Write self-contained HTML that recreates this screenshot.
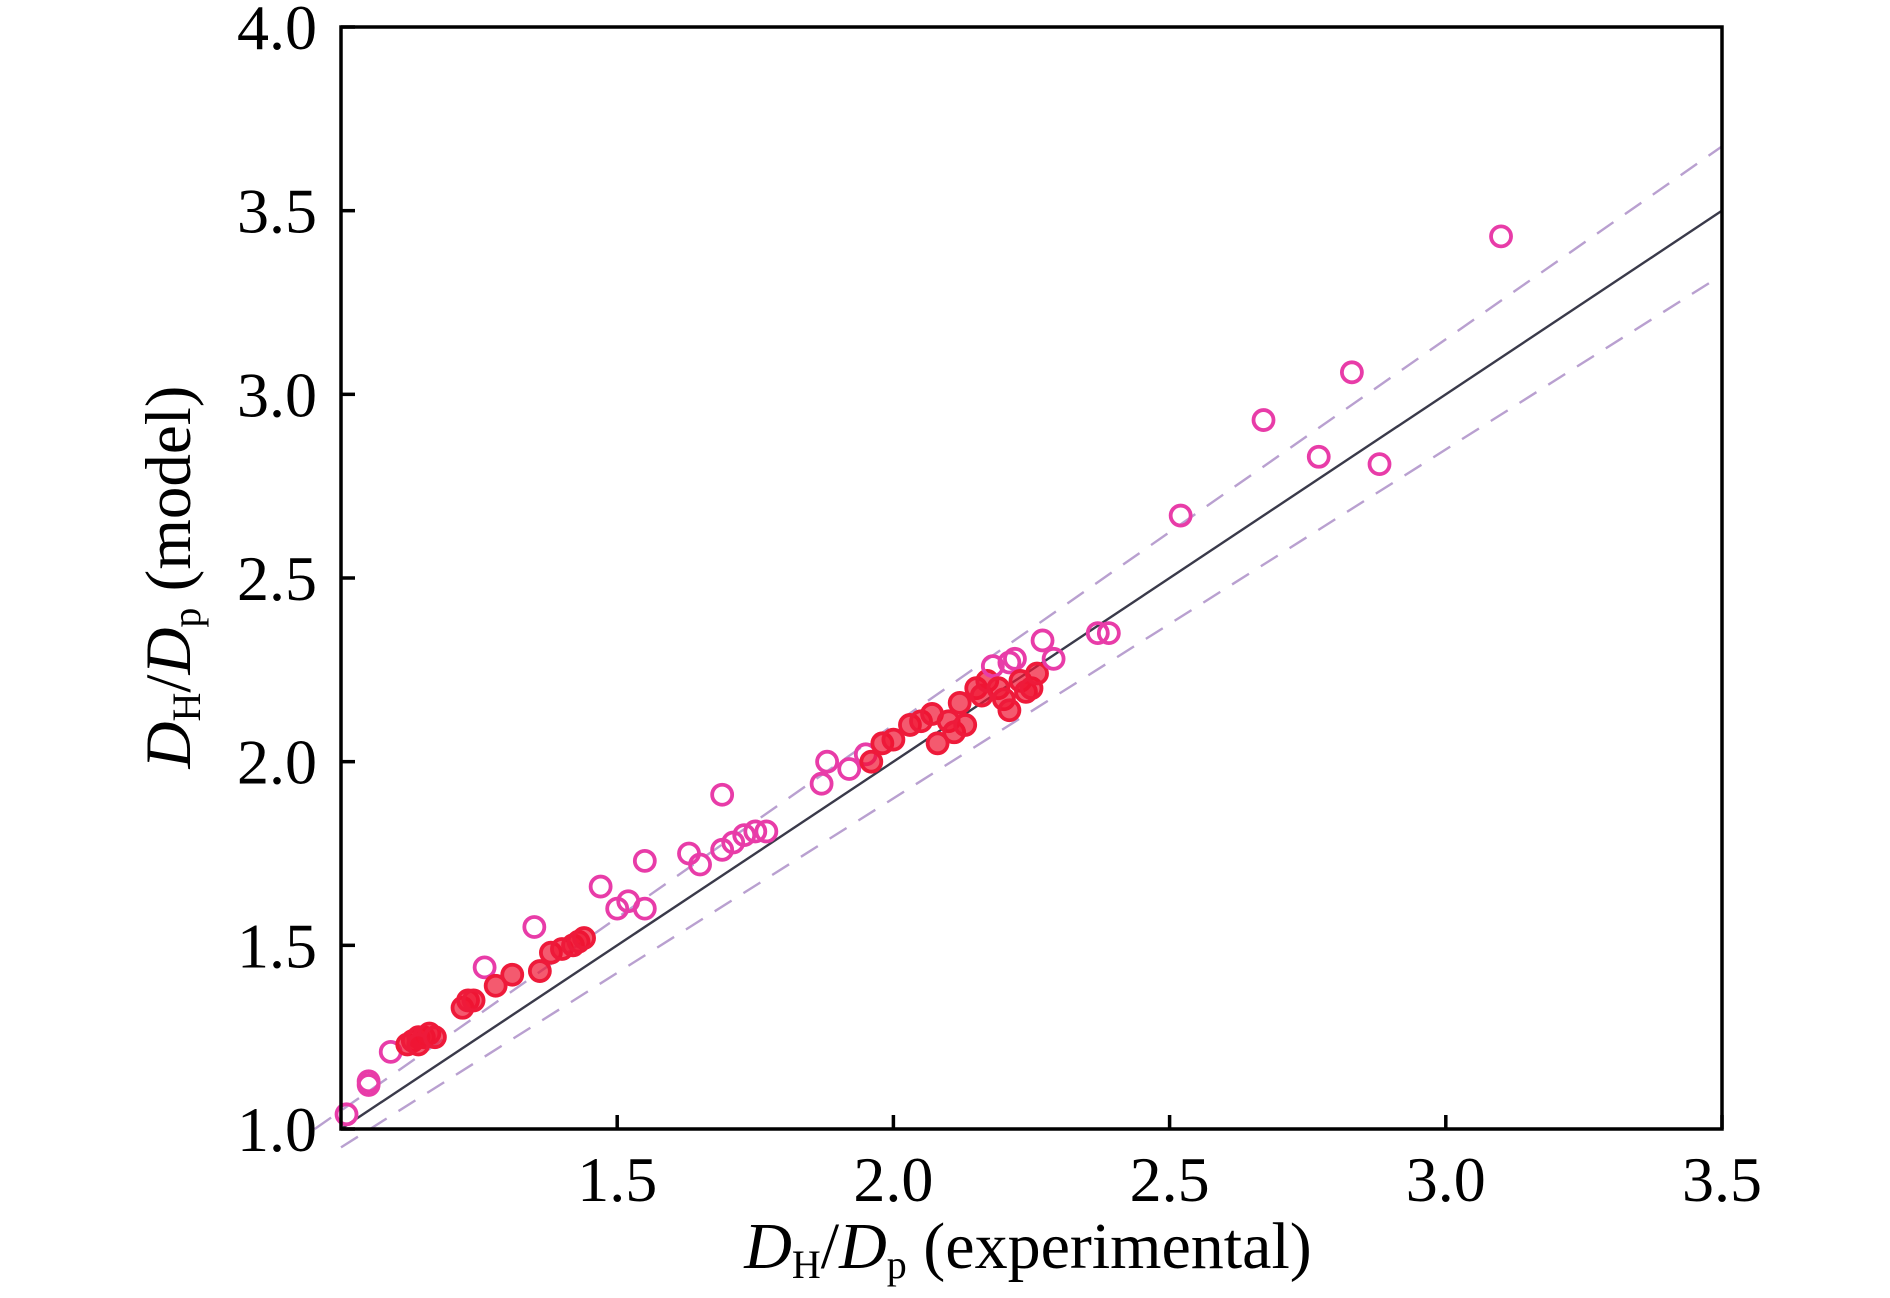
<!DOCTYPE html>
<html><head><meta charset="utf-8"><style>
html,body{margin:0;padding:0;background:#fff;}
svg{display:block;}
text{font-family:"Liberation Serif",serif;fill:#000;}
</style></head><body>
<svg id="chart" width="1890" height="1298" viewBox="0 0 1890 1298" style="position:absolute;left:0;top:0">
<g id="grid"></g>
<g id="marks"></g>
<g id="axes"></g>
</svg>
<script>
const xTicks = [1.5, 2.0, 2.5, 3.0, 3.5];
const yTicks = [1.0, 1.5, 2.0, 2.5, 3.0, 3.5, 4.0];
const xExp = [1.01,1.05,1.05,1.09,1.12,1.13,1.14,1.15,1.16,1.14,1.17,1.22,1.23,1.24,1.26,1.28,1.31,1.35,1.36,1.38,1.40,1.42,1.43,1.44,1.47,1.50,1.52,1.55,1.55,1.63,1.65,1.69,1.69,1.71,1.73,1.75,1.77,1.87,1.88,1.92,1.95,1.96,1.98,2.00,2.03,2.05,2.07,2.08,2.10,2.11,2.12,2.13,2.15,2.16,2.17,2.18,2.19,2.20,2.21,2.21,2.22,2.23,2.24,2.25,2.26,2.27,2.29,2.37,2.39,2.52,2.67,2.77,2.83,2.88,3.10];
const yModel = [1.04,1.13,1.12,1.21,1.23,1.24,1.25,1.25,1.26,1.23,1.25,1.33,1.35,1.35,1.44,1.39,1.42,1.55,1.43,1.48,1.49,1.50,1.51,1.52,1.66,1.60,1.62,1.73,1.60,1.75,1.72,1.91,1.76,1.78,1.80,1.81,1.81,1.94,2.00,1.98,2.02,2.00,2.05,2.06,2.10,2.11,2.13,2.05,2.11,2.08,2.16,2.10,2.20,2.18,2.22,2.26,2.20,2.17,2.27,2.14,2.28,2.22,2.19,2.20,2.24,2.33,2.28,2.35,2.35,2.67,2.93,2.83,3.06,2.81,3.43];
const bandFactors = [1.05, 0.95];

const L=341,R=1722,T=27,B=1129;
const xMin=1.0,xMax=3.5,yMin=1.0,yMax=4.0;
const sx=v=>L+(v-xMin)/(xMax-xMin)*(R-L);
const sy=v=>B-(v-yMin)/(yMax-yMin)*(B-T);
const NS="http://www.w3.org/2000/svg";
function mk(tag,attrs,parent){const e=document.createElementNS(NS,tag);for(const k in attrs)e.setAttribute(k,attrs[k]);parent.appendChild(e);return e;}
const grid=document.getElementById('grid'),marks=document.getElementById('marks'),axes=document.getElementById('axes');

let l=mk('line',{x1:sx(1.0),y1:sy(1.0),x2:sx(3.5),y2:sy(3.5),stroke:'#3a3a4a','stroke-width':2.4},grid);


bandFactors.forEach((f,i)=>{
  const x0=f>1?1.0/f:1.0, x1=3.5;
  const ln=mk('line',{x1:sx(x0),y1:sy(x0*f),x2:sx(x1),y2:sy(x1*f),stroke:'#b9a0d0','stroke-width':2.4,'stroke-dasharray':'20 14'},grid);
  
  
});

xExp.forEach((x,i)=>{
  const y=yModel[i];
  const dense=(x>1.1&&x<1.45&&Math.abs(y-x*1.07)<0.05)||(x>1.95&&x<2.27&&y<2.25);
  const c=mk('circle',{cx:sx(x),cy:sy(y),r:10,fill:dense?'rgba(240,20,50,0.7)':'none',stroke:dense?'#ee1a3a':'#e83ca8','stroke-width':3.8},marks);
  
  
});

const fr=mk('rect',{x:L,y:T,width:R-L,height:B-T,fill:'none',stroke:'#000','stroke-width':3.5},axes);



xTicks.forEach(v=>{
  const t=mk('line',{x1:sx(v),y1:B,x2:sx(v),y2:B-14,stroke:'#000','stroke-width':3.5},axes);
  
  
  const tx=mk('text',{x:sx(v),y:1201,'font-size':64,'text-anchor':'middle'},axes);
  tx.textContent=v.toFixed(1);
  
  
});
yTicks.forEach(v=>{
  const t=mk('line',{x1:L,y1:sy(v),x2:L+14,y2:sy(v),stroke:'#000','stroke-width':3.5},axes);
  
  
  const tx=mk('text',{x:317,y:sy(v)+22,'font-size':64,'text-anchor':'end'},axes);
  tx.textContent=v.toFixed(1);
  
  
});
</script>
<svg style="position:absolute;left:0;top:0" width="1890" height="1298">
<text x="1028" y="1268" font-size="66" text-anchor="middle"><tspan font-style="italic">D</tspan><tspan font-size="40" dy="10">H</tspan><tspan dy="-10">/</tspan><tspan font-style="italic">D</tspan><tspan font-size="40" dy="10">p</tspan><tspan dy="-10"> (experimental)</tspan></text>
<text transform="translate(190,577) rotate(-90)" font-size="65" text-anchor="middle"><tspan font-style="italic">D</tspan><tspan font-size="40" dy="10">H</tspan><tspan dy="-10">/</tspan><tspan font-style="italic">D</tspan><tspan font-size="40" dy="10">p</tspan><tspan dy="-10"> (model)</tspan></text>
</svg>
</body></html>
